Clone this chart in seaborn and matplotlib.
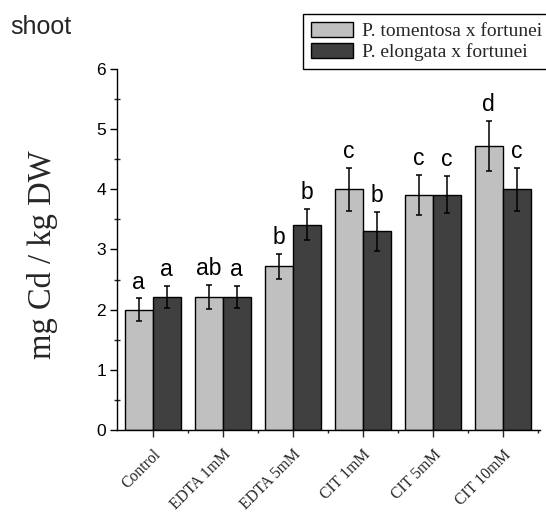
import matplotlib
matplotlib.use("Agg")
import matplotlib.pyplot as plt
import matplotlib.ticker as mticker
import numpy as np
import pandas as pd
import seaborn as sns

# Cd content in shoots per treatment for two poplar clones
treatments = ["Control", "EDTA 1mM", "EDTA 5mM", "CIT 1mM", "CIT 5mM", "CIT 10mM"]
clones = ["P. tomentosa x fortunei", "P. elongata x fortunei"]
tomentosa = [2.00, 2.21, 2.72, 4.00, 3.91, 4.72]
tomentosa_err = [0.19, 0.20, 0.21, 0.36, 0.33, 0.42]
elongata = [2.21, 2.21, 3.41, 3.30, 3.91, 4.00]
elongata_err = [0.19, 0.19, 0.26, 0.33, 0.31, 0.36]
tomentosa_letters = ["a", "ab", "b", "c", "c", "d"]
elongata_letters = ["a", "a", "b", "b", "c", "c"]
yticks = [0, 1, 2, 3, 4, 5, 6]

df = pd.DataFrame({
    "treatment": treatments * 2,
    "clone": [clones[0]] * len(treatments) + [clones[1]] * len(treatments),
    "value": tomentosa + elongata,
})
errors = {clones[0]: tomentosa_err, clones[1]: elongata_err}
letters = {clones[0]: tomentosa_letters, clones[1]: elongata_letters}

sns.set_theme(style="ticks")
plt.rcParams["font.family"] = ["Liberation Sans", "DejaVu Sans"]
serif = ["Liberation Serif", "DejaVu Serif"]

fig = plt.figure(figsize=(5.46, 5.12), dpi=100)
ax = fig.add_axes([0.2143, 0.1602, 0.7747, 0.7050])

sns.barplot(data=df, x="treatment", y="value", hue="clone",
            order=treatments, hue_order=clones,
            palette=["#c0c0c0", "#404040"], edgecolor="black", linewidth=1.0,
            errorbar=None, width=0.8, saturation=1, ax=ax)

for container, clone in zip(ax.containers, clones):
    xs = [p.get_x() + p.get_width() / 2 for p in container.patches]
    hs = [p.get_height() for p in container.patches]
    ax.errorbar(xs, hs, yerr=errors[clone], fmt="none", ecolor="black",
                elinewidth=1.1, capsize=2.3, capthick=1.1, zorder=5)
    for x, h, e, lab in zip(xs, hs, errors[clone], letters[clone]):
        ax.annotate(lab, (x, h + e), xytext=(0, 7), textcoords="offset points",
                    ha="center", va="baseline", fontsize=16.5, color="black")

ax.set_xlim(-0.51, 5.53)
ax.set_ylim(0, 6)
ax.set_yticks(yticks)
ax.yaxis.set_minor_locator(mticker.MultipleLocator(0.5))
ax.set_xticks(range(len(treatments)))
ax.xaxis.set_minor_locator(mticker.FixedLocator(np.arange(0.5, len(treatments), 1.0)))

for side in ("top", "right"):
    ax.spines[side].set_visible(False)
for side in ("left", "bottom"):
    ax.spines[side].set_linewidth(1.0)
    ax.spines[side].set_color("black")

ax.tick_params(axis="y", which="major", direction="out", length=5, width=1,
               pad=3, labelsize=12.5, colors="black")
ax.tick_params(axis="y", which="minor", direction="inout", length=5, width=1)
ax.tick_params(axis="x", which="major", direction="out", length=5, width=1, pad=7)
ax.tick_params(axis="x", which="minor", direction="out", length=2.5, width=1)

ax.set_xticklabels(treatments, rotation=45, ha="right", va="top",
                   rotation_mode="anchor", fontfamily=serif, fontsize=11.3)
ax.set_xlabel("")
ax.set_ylabel("mg Cd / kg DW", fontfamily=serif, fontsize=23.5)
ax.yaxis.set_label_coords(-0.14, 0.485)

handles, labels = ax.get_legend_handles_labels()
ax.get_legend().remove()
leg = fig.legend(handles, labels, loc="upper left",
                 bbox_to_anchor=(303 / 546, 1 - 14 / 512),
                 bbox_transform=fig.transFigure,
                 prop={"family": serif, "size": 14},
                 frameon=True, fancybox=False, framealpha=1,
                 edgecolor="black", handlelength=2.15, handleheight=0.82,
                 handletextpad=0.5, borderpad=0.4, labelspacing=0.15,
                 borderaxespad=0)
leg.get_frame().set_linewidth(1.0)

fig.text(10 / 546, 1 - 34 / 512, "shoot", fontsize=18, ha="left", va="baseline")

fig.savefig("out.png", dpi=100)
